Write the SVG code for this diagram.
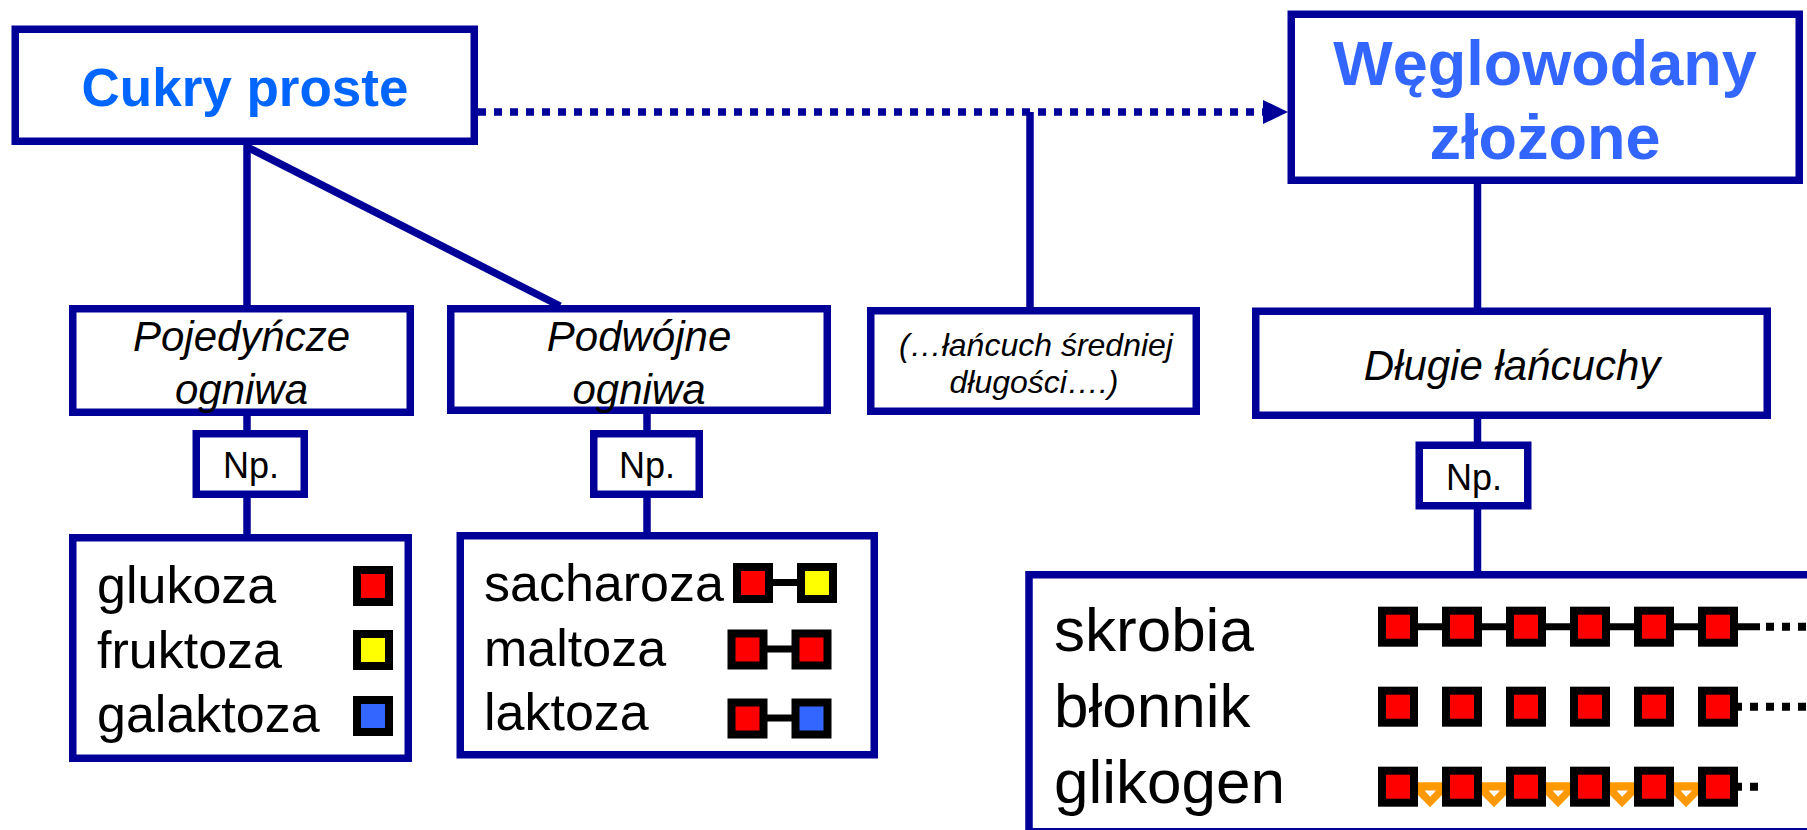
<svg xmlns="http://www.w3.org/2000/svg" width="1807" height="830" viewBox="0 0 1807 830">
<defs>
<style>
.box{fill:#fff;stroke:#000099;stroke-width:7.5}
.ln{stroke:#000099;stroke-width:7.5;fill:none}
.title{font-family:"Liberation Sans",Arial,sans-serif;font-weight:bold;text-anchor:middle}
.it{font-family:"Liberation Sans",Arial,sans-serif;font-style:italic;text-anchor:middle;fill:#000}
.np{font-family:"Liberation Sans",Arial,sans-serif;font-size:36px;text-anchor:middle;fill:#000}
.lst{font-family:"Liberation Sans",Arial,sans-serif;font-size:52px;fill:#000}
.big{font-family:"Liberation Sans",Arial,sans-serif;font-size:62px;fill:#000}
.sq{stroke:#000;stroke-width:8}
.r{fill:#ff0000}.y{fill:#ffff00}.b{fill:#3366ff}
.bond{stroke:#000;stroke-width:7}
.dots{stroke:#000;stroke-width:8;stroke-dasharray:8 8}
.chev{fill:#ff9900}
.chin{fill:#fff}
</style>
</defs>
<rect width="1807" height="830" fill="#fff"/>
<g id="connectors">
<line class="ln" x1="247" y1="145" x2="247" y2="306"/>
<line class="ln" x1="247" y1="147" x2="560" y2="306"/>
<line class="ln" x1="478" y1="112" x2="1263" y2="112" stroke-dasharray="8 8"/>
<polygon points="1263,100 1288,112 1263,124" fill="#000099"/>
<line class="ln" x1="1030" y1="112" x2="1030" y2="308"/>
<line class="ln" x1="1477.5" y1="184" x2="1477.5" y2="308"/>
<line class="ln" x1="247" y1="415" x2="247" y2="431"/>
<line class="ln" x1="247" y1="497" x2="247" y2="535"/>
<line class="ln" x1="647" y1="413" x2="647" y2="431"/>
<line class="ln" x1="647" y1="497" x2="647" y2="533"/>
<line class="ln" x1="1477.5" y1="418" x2="1477.5" y2="442"/>
<line class="ln" x1="1477.5" y1="509" x2="1477.5" y2="572"/>
</g>
<g id="cukry-proste">
<rect class="box" x="15.25" y="29.25" width="459" height="112"/>
<text class="title" x="245" y="106" font-size="53" fill="#0066ff">Cukry proste</text>
</g>
<g id="weglowodany-zlozone">
<rect class="box" x="1291.25" y="14.25" width="508" height="166"/>
<text class="title" x="1545" y="85" font-size="63" fill="#3366ff">Węglowodany</text>
<text class="title" x="1545" y="159" font-size="63" fill="#3366ff">złożone</text>
</g>
<g id="pojedyncze">
<rect class="box" x="72.75" y="308.75" width="337.5" height="103.5"/>
<text class="it" x="241.5" y="351" font-size="42">Pojedyńcze</text>
<text class="it" x="241.5" y="404" font-size="42">ogniwa</text>
</g>
<g id="podwojne">
<rect class="box" x="450.75" y="308.75" width="376.5" height="101.5"/>
<text class="it" x="639" y="351" font-size="42">Podwójne</text>
<text class="it" x="639" y="404" font-size="42">ogniwa</text>
</g>
<g id="sredni-lancuch">
<rect class="box" x="870.75" y="310.75" width="325.5" height="100.5"/>
<text class="it" x="1036" y="356" font-size="32">(…łańcuch średniej</text>
<text class="it" x="1034" y="393" font-size="32">długości….)</text>
</g>
<g id="dlugie">
<rect class="box" x="1255.75" y="311.25" width="511.5" height="104"/>
<text class="it" x="1512" y="380" font-size="42">Długie łańcuchy</text>
</g>
<g id="np-1">
<rect class="box" x="196.25" y="433.75" width="108" height="60.5"/>
<text class="np" x="251" y="478">Np.</text>
</g>
<g id="np-2">
<rect class="box" x="593.75" y="433.75" width="105.5" height="60.5"/>
<text class="np" x="647" y="478">Np.</text>
</g>
<g id="np-3">
<rect class="box" x="1419.25" y="445.25" width="108.5" height="60.5"/>
<text class="np" x="1474" y="490">Np.</text>
</g>
<g id="lista-proste">
<rect class="box" x="72.75" y="537.75" width="335.5" height="220.5"/>
<text class="lst" x="97" y="603">glukoza</text>
<text class="lst" x="97" y="668">fruktoza</text>
<text class="lst" x="97" y="732">galaktoza</text>
<rect class="sq r" x="357" y="570" width="32" height="32"/>
<rect class="sq y" x="357" y="634" width="32" height="32"/>
<rect class="sq b" x="357" y="700" width="32" height="32"/>
</g>
<g id="lista-podwojne">
<rect class="box" x="460.25" y="535.75" width="414" height="219"/>
<text class="lst" x="484" y="601">sacharoza</text>
<text class="lst" x="484" y="666">maltoza</text>
<text class="lst" x="484" y="730">laktoza</text>
<line class="bond" x1="770" y1="582.5" x2="800" y2="582.5"/>
<rect class="sq r" x="737" y="567" width="32" height="32"/>
<rect class="sq y" x="801" y="567" width="32" height="32"/>
<line class="bond" x1="765" y1="649" x2="795" y2="649"/>
<rect class="sq r" x="731.5" y="633.5" width="32" height="32"/>
<rect class="sq r" x="795.5" y="633.5" width="32" height="32"/>
<line class="bond" x1="765" y1="718" x2="795" y2="718"/>
<rect class="sq r" x="731.5" y="702.5" width="32" height="32"/>
<rect class="sq b" x="795.5" y="702.5" width="32" height="32"/>
</g>
<g id="lista-zlozone">
<rect class="box" x="1029" y="574.75" width="900" height="257"/>
<text class="big" x="1054" y="651">skrobia</text>
<text class="big" x="1054" y="727">błonnik</text>
<text class="big" x="1054" y="803">glikogen</text>
<line class="bond" x1="1400" y1="626.7" x2="1760" y2="626.7" stroke-width="8"/>
<line class="dots" x1="1766" y1="626.7" x2="1807" y2="626.7"/>
<line class="dots" x1="1734" y1="706.7" x2="1807" y2="706.7"/>
<line class="dots" x1="1734" y1="786.7" x2="1758" y2="786.7"/>
<g id="chevrons">
<polygon class="chev" points="1418,782.3 1442,782.3 1442,795 1430,807.3 1418,795"/>
<polygon class="chin" points="1424.5,790.5 1436,790.5 1430.2,796.7"/>
<polygon class="chev" points="1482,782.3 1506,782.3 1506,795 1494,807.3 1482,795"/>
<polygon class="chin" points="1488.5,790.5 1500,790.5 1494.2,796.7"/>
<polygon class="chev" points="1546,782.3 1570,782.3 1570,795 1558,807.3 1546,795"/>
<polygon class="chin" points="1552.5,790.5 1564,790.5 1558.2,796.7"/>
<polygon class="chev" points="1610,782.3 1634,782.3 1634,795 1622,807.3 1610,795"/>
<polygon class="chin" points="1616.5,790.5 1628,790.5 1622.2,796.7"/>
<polygon class="chev" points="1674,782.3 1698,782.3 1698,795 1686,807.3 1674,795"/>
<polygon class="chin" points="1680.5,790.5 1692,790.5 1686.2,796.7"/>
</g>
<rect class="sq r" x="1382" y="610.7" width="32" height="32"/>
<rect class="sq r" x="1446" y="610.7" width="32" height="32"/>
<rect class="sq r" x="1510" y="610.7" width="32" height="32"/>
<rect class="sq r" x="1574" y="610.7" width="32" height="32"/>
<rect class="sq r" x="1638" y="610.7" width="32" height="32"/>
<rect class="sq r" x="1702" y="610.7" width="32" height="32"/>
<rect class="sq r" x="1382" y="690.7" width="32" height="32"/>
<rect class="sq r" x="1446" y="690.7" width="32" height="32"/>
<rect class="sq r" x="1510" y="690.7" width="32" height="32"/>
<rect class="sq r" x="1574" y="690.7" width="32" height="32"/>
<rect class="sq r" x="1638" y="690.7" width="32" height="32"/>
<rect class="sq r" x="1702" y="690.7" width="32" height="32"/>
<rect class="sq r" x="1382" y="770.7" width="32" height="32"/>
<rect class="sq r" x="1446" y="770.7" width="32" height="32"/>
<rect class="sq r" x="1510" y="770.7" width="32" height="32"/>
<rect class="sq r" x="1574" y="770.7" width="32" height="32"/>
<rect class="sq r" x="1638" y="770.7" width="32" height="32"/>
<rect class="sq r" x="1702" y="770.7" width="32" height="32"/>
</g>
</svg>
